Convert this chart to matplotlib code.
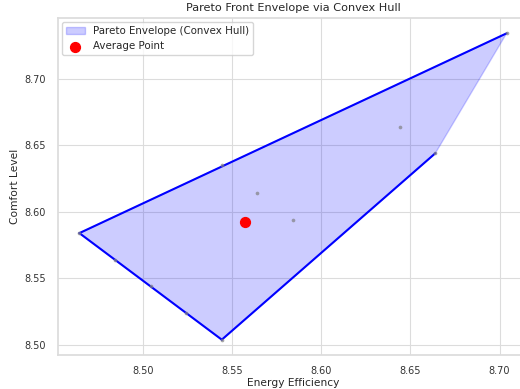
import matplotlib
matplotlib.use("Agg")
import matplotlib.pyplot as plt
import seaborn as sns

# data points (energy efficiency, comfort level)
energy = [8.464, 8.484, 8.504, 8.524, 8.544, 8.544, 8.564, 8.584, 8.644, 8.664, 8.704]
comfort = [8.584, 8.564, 8.544, 8.524, 8.504, 8.635, 8.614, 8.594, 8.664, 8.644, 8.734]

# convex hull vertices (in order) and the edges drawn as lines
hull_x = [8.464, 8.544, 8.664, 8.704]
hull_y = [8.584, 8.504, 8.644, 8.734]
edges = [(0, 1), (1, 2), (0, 3)]

avg_x = [8.557]
avg_y = [8.592]

sns.set_theme(style="whitegrid")
plt.rcParams["font.family"] = ["DejaVu Sans"]
plt.rcParams.update({"grid.color": "#dcdcdc", "grid.linewidth": 0.8,
                     "axes.edgecolor": "#dcdcdc"})

fig = plt.figure(figsize=(5.2, 3.89), dpi=100)
ax = fig.add_axes([58/520, 34/389, 470/520, 337/389])

ax.fill(hull_x, hull_y, color="blue", alpha=0.2, label="Pareto Envelope (Convex Hull)")
for i, j in edges:
    ax.plot([hull_x[i], hull_x[j]], [hull_y[i], hull_y[j]], color="blue", linewidth=1.5)
ax.scatter(energy, comfort, color="gray", s=7, alpha=0.7, linewidths=0, zorder=3)
ax.scatter(avg_x, avg_y, color="red", s=50, label="Average Point", zorder=4)

ax.set_xticks([8.50, 8.55, 8.60, 8.65, 8.70])
ax.set_yticks([8.50, 8.55, 8.60, 8.65, 8.70])
ax.tick_params(labelsize=7, labelcolor="#333333")
ax.tick_params(axis="x", pad=2)
ax.tick_params(axis="y", pad=2.5)
ax.set_title("Pareto Front Envelope via Convex Hull", fontsize=8.1, pad=5)
ax.set_xlabel("Energy Efficiency", fontsize=7.7, labelpad=1.5)
ax.set_ylabel("Comfort Level", fontsize=7.7, labelpad=3)
ax.legend(loc="upper left", fontsize=7.4, borderaxespad=0.4, handlelength=1.8)

fig.savefig("out.png", dpi=100)
